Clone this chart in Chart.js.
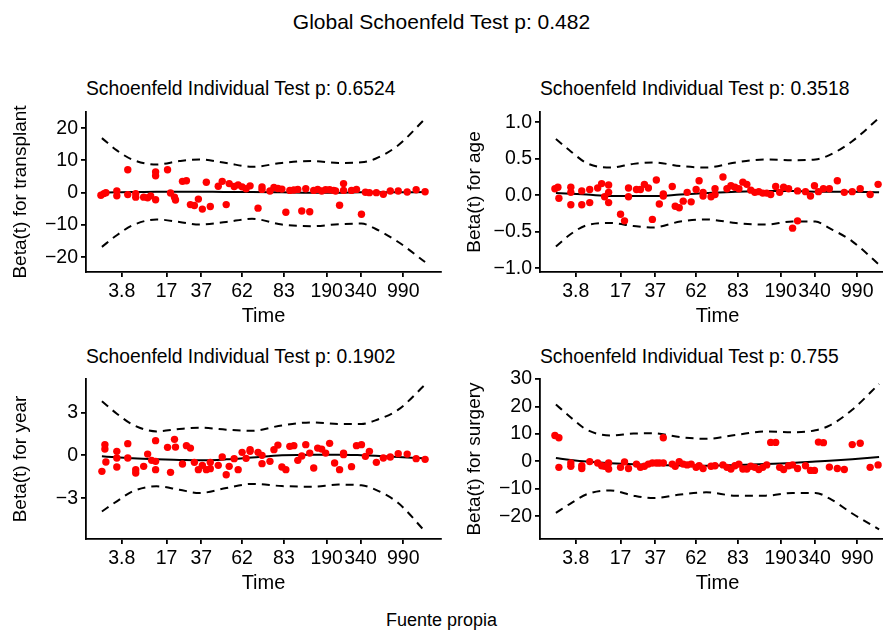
<!DOCTYPE html>
<html>
<head>
<meta charset="utf-8">
<script src="https://cdn.jsdelivr.net/npm/chart.js@4/dist/chart.umd.min.js"></script>
<style>
  html, body { margin: 0; padding: 0; background: #fff; overflow: hidden; }
  body { width: 883px; height: 631px; position: relative; font-family: "Liberation Sans", Arial, sans-serif; color: #000; }
  canvas { position: absolute; }
  .txt { position: absolute; white-space: nowrap; line-height: 1; }
  .ptitle { font-size: 19.3px; }
</style>
</head>
<body>
<div class="txt" id="title" style="left:0;width:883px;text-align:center;top:11px;font-size:21px;">Global Schoenfeld Test p: 0.482</div>

<div class="txt ptitle" style="left:86px;top:79px;">Schoenfeld Individual Test p: 0.6524</div>
<div class="txt ptitle" style="left:540px;top:79px;">Schoenfeld Individual Test p: 0.3518</div>
<div class="txt ptitle" style="left:86px;top:347px;">Schoenfeld Individual Test p: 0.1902</div>
<div class="txt ptitle" style="left:540px;top:347px;">Schoenfeld Individual Test p: 0.755</div>

<canvas id="c1" width="445" height="260" style="left:0;top:70px;"></canvas>
<canvas id="c2" width="445" height="260" style="left:454px;top:70px;"></canvas>
<canvas id="c3" width="445" height="260" style="left:0;top:337px;"></canvas>
<canvas id="c4" width="445" height="260" style="left:454px;top:337px;"></canvas>

<div class="txt" id="caption" style="left:0;width:883px;text-align:center;top:611px;font-size:18px;">Fuente propia</div>

<script>
"use strict";

/* transformed time axis: tick positions and the times they stand for */
var tickPos = [36, 81, 116, 157, 199, 242, 276, 319];
var tickLabels = ['3.8', '17', '37', '62', '83', '190', '340', '990'];

/* x positions where the smooth fit and its bands were read */
var bandX = [16, 31, 47, 71, 94, 114, 141, 167, 197, 227, 254, 277, 291, 314, 341];

/* transplant */
var transplantX = [15,18,20,31,31,42,42,50,50,58,62,65,70,70,70,82,85,89,90,97,101,105,109,113,117,121,125,133,137,141,144,149,153,157,161,165,173,177,177,185,189,193,197,201,205,209,213,217,221,225,229,233,237,241,245,249,251,255,259,259,267,272,277,281,285,292,299,306,314,323,332,341];
var transplantY = [-0.8,-0.3,0,0.5,-1.0,7.1,-0.6,-0.3,-1.4,-1.4,-1.6,-1.0,6.4,5.2,-2.2,7.1,-0.1,-1.4,-2.3,3.5,3.7,-3.7,-4.0,-2.0,-5.1,3.2,-4.3,2.0,3.5,-3.7,2.8,1.9,2.4,1.8,1.2,2.1,-4.8,1.8,1.0,0.5,1.6,1.3,1.1,-6.1,0.7,0.8,1.0,-5.7,1.2,-5.9,0.7,1.0,0.5,0.9,0.9,0.7,0.5,-3.9,2.8,0.7,0.7,1.0,-6.7,0.1,0,0,-0.5,0.5,0.5,0.2,0.9,0.3];
var transplantFit = [0.0,0.1,0.2,0.3,0.3,0.3,0.2,0.2,0.1,0.0,0.0,0.1,0.1,0.1,0.2];
var transplantUp = [16.9,13.1,10.2,8.7,9.8,10.3,9.2,8.0,9.2,9.8,9.2,9.4,10.5,14.7,22.9];
var transplantLo = [-16.8,-13.2,-10.1,-8.3,-9.1,-9.9,-9.1,-8.1,-9.9,-10.4,-9.8,-9.6,-11.2,-15.3,-21.5];

/* age */
var ageX = [15,18,19,31,31,31,42,42,50,50,58,62,65,69,69,69,81,85,89,89,97,101,105,109,113,117,120,124,124,133,136,140,144,148,152,157,160,164,164,172,176,176,184,188,192,196,200,204,208,212,216,220,224,228,232,237,241,245,250,254,259,259,267,272,276,280,285,291,299,306,314,322,332,340];
var ageY = [0.09,0.11,-0.04,0.11,0.04,-0.13,0.06,-0.13,0.08,-0.10,0.10,0.16,-0.02,0.14,0.04,-0.10,-0.26,-0.35,0.10,-0.02,0.08,0.08,0.15,0.10,-0.33,0.21,-0.12,0.02,-0.01,0.12,-0.15,-0.17,-0.08,0.04,-0.09,0.08,0.20,0.04,-0.01,-0.02,0.09,0.01,0.25,0.09,0.13,0.11,0.09,0.18,0.15,0.07,0.04,0.05,0.03,0.03,0.01,0.12,0.04,0.11,0.09,-0.45,-0.35,0.06,0.05,-0.01,0.13,0.05,0.09,0.09,0.20,0.04,0.05,0.09,0.01,0.15];
var ageFit = [0.03,0.02,0.01,-0.01,-0.01,-0.01,0.01,0.03,0.05,0.06,0.06,0.05,0.05,0.05,0.04];
var ageUp = [0.77,0.60,0.44,0.38,0.43,0.45,0.40,0.38,0.45,0.49,0.48,0.49,0.55,0.74,1.06];
var ageLo = [-0.70,-0.53,-0.41,-0.38,-0.42,-0.44,-0.36,-0.33,-0.38,-0.40,-0.36,-0.36,-0.45,-0.63,-0.95];

/* year */
var yearX = [16,19,19,20,31,31,31,42,42,50,50,58,62,66,70,70,70,82,85,89,90,97,101,105,109,113,117,121,125,125,133,137,141,144,149,153,157,161,165,165,173,177,177,185,189,193,197,201,205,209,213,217,221,225,229,233,237,241,245,250,255,259,259,267,272,277,281,285,292,299,306,314,323,332,341];
var yearY = [-1.12,0.75,0.44,-0.47,0.28,-0.19,-0.82,0.82,-0.19,-1.0,-1.24,-0.77,0.09,-0.35,1.03,-0.42,-1.0,0.56,-1.19,1.12,0.58,-0.61,0.68,0.51,-0.49,-1.0,-0.70,-1.0,-0.93,-0.49,-0.70,-0.12,-1.36,-0.77,-0.23,-1.0,0.21,-0.21,0.40,0.28,0.21,0.0,-0.58,-0.42,0.40,0.72,-0.82,-1.0,0.63,0.68,-0.35,-0.05,0.75,0.16,-0.89,0.51,0.44,0.16,0.84,-0.54,-1.0,0.16,0.05,-0.79,0.68,0.75,-0.07,0.28,-0.49,-0.19,-0.12,0.12,0.09,-0.23,-0.28];
var yearFit = [-0.07,-0.13,-0.21,-0.28,-0.32,-0.35,-0.28,-0.15,0.0,0.05,0.05,0.01,-0.03,-0.12,-0.21];
var yearUp = [3.79,2.92,2.15,1.68,1.85,1.94,1.80,1.72,2.10,2.31,2.20,2.20,2.45,3.20,4.95];
var yearLo = [-3.93,-3.22,-2.52,-2.17,-2.41,-2.64,-2.29,-2.00,-2.15,-2.20,-2.05,-2.10,-2.40,-3.34,-5.33];

/* surgery */
var surgeryX = [15,19,19,31,31,42,42,50,58,62,65,69,69,81,85,89,97,101,105,109,113,117,120,124,124,133,136,140,144,148,152,157,160,164,172,176,184,188,192,196,200,204,208,212,216,220,224,228,232,237,241,245,250,254,259,267,272,276,280,285,291,299,306,314,322,332,340];
var surgeryY = [9.4,8.6,-2.2,-0.6,-1.8,-1.6,-2.6,-0.1,-0.6,-1.6,-1.8,-0.6,-2.8,-2.2,-0.2,-2.6,-1.0,-2.2,-1.8,-1.0,-0.6,-0.6,-0.6,8.6,-0.6,-1.0,-1.8,-0.1,-1.0,-1.3,-1.0,-2.2,-1.6,-2.6,-1.8,-1.6,-1.3,-2.2,-2.8,-1.6,-1.0,-2.8,-2.8,-1.8,-2.2,-3.0,-2.2,-1.3,6.9,6.9,-2.2,-3.0,-1.6,-1.3,-2.6,-1.6,-3.3,-3.3,7.0,6.8,-2.1,-2.6,-3.0,6.1,6.6,-2.2,-1.3];
var surgeryFit = [1.2,0.5,-0.1,-0.7,-1.1,-1.3,-1.5,-1.6,-1.3,-1.0,-0.6,-0.1,0.2,0.8,1.6];
var surgeryUp = [20.7,16.0,11.5,9.4,10.1,10.2,8.8,8.2,9.6,10.9,10.6,11.3,13.0,18.8,28.2];
var surgeryLo = [-18.8,-15.3,-12.0,-10.6,-12.5,-13.4,-12.1,-11.3,-12.5,-12.5,-11.5,-11.5,-13.5,-19.0,-24.8];

var FONT = '"Liberation Sans", Arial, sans-serif';

function pairs(xs, ys) {
    return xs.map(function (x, i) { return { x: x, y: ys[i] }; });
}

function fmt(v, d) {
    return (v < 0 ? '\u2212' : '') + Math.abs(v).toFixed(d);
}

function curve(values, dashed) {
    return {
        type: 'line',
        data: pairs(bandX, values),
        borderColor: '#000',
        borderWidth: 2,
        borderDash: dashed ? [8, 6] : [],
        pointRadius: 0,
        fill: false,
        cubicInterpolationMode: 'monotone',
        order: 1
    };
}

function drawPanel(id, xs, ys, fit, up, lo, yMin, yMax, yTicks, yDigits, yTitle) {
    var ctx = document.getElementById(id);
    return new Chart(ctx, {
        type: 'scatter',
        data: {
            datasets: [
                {
                    data: pairs(xs, ys),
                    backgroundColor: '#ff0000',
                    borderColor: '#ff0000',
                    borderWidth: 0,
                    pointRadius: 3.7,
                    order: 0
                },
                curve(fit, false),
                curve(up, true),
                curve(lo, true)
            ]
        },
        options: {
            responsive: false,
            animation: false,
            layout: { padding: { top: 42, right: 2, left: 0, bottom: 0 } },
            plugins: { legend: { display: false }, tooltip: { enabled: false } },
            scales: {
                x: {
                    type: 'linear',
                    min: 0,
                    max: 357,
                    afterBuildTicks: function (s) { s.ticks = tickPos.map(function (v) { return { value: v }; }); },
                    afterFit: function (s) { s.height = 58; },
                    ticks: {
                        autoSkip: false,
                        maxRotation: 0,
                        padding: 3,
                        color: '#000',
                        font: { size: 19.5, family: FONT },
                        callback: function (v, i) { return tickLabels[i]; }
                    },
                    grid: { display: true, drawOnChartArea: false, drawTicks: true, tickLength: 5, color: '#000', lineWidth: 1.8 },
                    border: { display: true, color: '#000', width: 1.8 },
                    title: {
                        display: true, text: 'Time', color: '#000',
                        font: { size: 20, family: FONT },
                        padding: { top: 0, bottom: 2 }
                    }
                },
                y: {
                    type: 'linear',
                    min: yMin,
                    max: yMax,
                    afterBuildTicks: function (s) { s.ticks = yTicks.map(function (v) { return { value: v }; }); },
                    afterFit: function (s) { s.width = 86; },
                    ticks: {
                        padding: 3,
                        color: '#000',
                        font: { size: 19.5, family: FONT },
                        callback: function (v) { return fmt(v, yDigits); }
                    },
                    grid: { display: true, drawOnChartArea: false, drawTicks: true, tickLength: 5, color: '#000', lineWidth: 1.8 },
                    border: { display: true, color: '#000', width: 1.8 },
                    title: {
                        display: true, text: yTitle, color: '#000',
                        font: { size: 19, family: FONT },
                        padding: { top: 9, bottom: 0 }
                    }
                }
            }
        }
    });
}

drawPanel('c1', transplantX, transplantY, transplantFit, transplantUp, transplantLo, -24.6, 25, [-20, -10, 0, 10, 20], 0, 'Beta(t) for transplant');
drawPanel('c2', ageX, ageY, ageFit, ageUp, ageLo, -1.05, 1.14, [-1, -0.5, 0, 0.5, 1], 1, 'Beta(t) for age');
drawPanel('c3', yearX, yearY, yearFit, yearUp, yearLo, -5.86, 5.35, [-3, 0, 3], 0, 'Beta(t) for year');
drawPanel('c4', surgeryX, surgeryY, surgeryFit, surgeryUp, surgeryLo, -28.3, 30, [-20, -10, 0, 10, 20, 30], 0, 'Beta(t) for surgery');
</script>
</body>
</html>
